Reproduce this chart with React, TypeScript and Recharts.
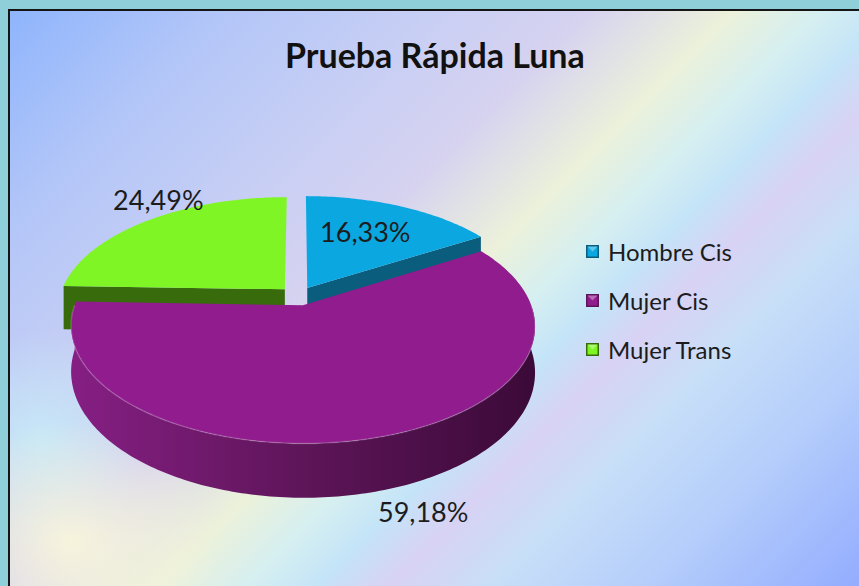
import { PieChart, Pie, Cell, Legend } from 'recharts';

const categories = ['Hombre Cis', 'Mujer Cis', 'Mujer Trans'];
const shares = [16.33, 59.18, 24.49];

const topColors = ['#0ba7e0', '#901c8d', '#7ff526'];
const wallLight = ['#0d6686', '#861f84', '#3f7610'];
const wallMid = ['#0b5a78', '#5e1559', '#386b0c'];
const wallDark = ['#0a4f6a', '#3b0a38', '#2f5a0b'];
const edgeColors = ['#0b5d7d', '#5e1459', '#386b0c'];

const chartData = categories.map((name, i) => ({ name, value: shares[i] }));

const WIDTH = 859;
const HEIGHT = 586;
const CENTER_X = 298;
const CENTER_Y = 296;
const RADIUS = 225;
const TILT = 0.491;
const PERSPECTIVE = 0.175;
const DEPTH = 44;
const EXPLODE = 0.085;

// where each percentage sits, as a fraction of the radius
const labelRadius = [0.62, 1.42, 0.92];
const labelShift = [[-3, -3], [10, 0], [0, -26]];

type Pt = [number, number];

const toRad = (deg: number) => (deg * Math.PI) / 180;

// angle clockwise from 12 o'clock, r relative to radius
const project = (cx: number, cy: number, radius: number, r: number, angle: number, ex: number, ev: number, drop = 0): Pt => {
  const px = r * Math.sin(toRad(angle)) + ex;
  const pv = r * Math.cos(toRad(angle)) + ev;
  const k = 1 + PERSPECTIVE * pv;
  return [cx + (radius * px) / k, cy + (drop - radius * TILT * pv) / k];
};

const toPath = (pts: Pt[], close = true) =>
  pts.map((p, i) => `${i ? 'L' : 'M'}${p[0].toFixed(2)},${p[1].toFixed(2)}`).join(' ') + (close ? ' Z' : '');

const arc = (from: number, to: number, fn: (a: number) => Pt) => {
  const n = Math.max(2, Math.ceil(Math.abs(to - from)));
  const pts: Pt[] = [];
  for (let s = 0; s <= n; s++) pts.push(fn(from + ((to - from) * s) / n));
  return pts;
};

const sliceIndex = (props: any) => {
  const name = props.name ?? props.payload?.name;
  const i = categories.indexOf(name);
  return i >= 0 ? i : props.index ?? 0;
};

const makeSlice = (layer: 'back' | 'front') => (props: any) => {
  const { cx, cy, outerRadius, startAngle, endAngle } = props;
  const i = sliceIndex(props);
  const a1 = 90 - startAngle;
  const a2 = 90 - endAngle;
  const mid = (a1 + a2) / 2;
  const inBack = Math.cos(toRad(mid)) > 0;
  if ((layer === 'back') !== inBack) return <g />;

  const ex = EXPLODE * Math.sin(toRad(mid));
  const ev = EXPLODE * Math.cos(toRad(mid));
  const top = (r: number, a: number) => project(cx, cy, outerRadius, r, a, ex, ev);
  const bottom = (r: number, a: number) => project(cx, cy, outerRadius, r, a, ex, ev, DEPTH);
  const gid = `wall-${i}`;

  const faces = [];
  const w0 = Math.max(a1, 90);
  const w1 = Math.min(a2, 270);
  if (w1 > w0) {
    faces.push(
      <path key="wall" d={toPath([...arc(w0, w1, (a) => top(1, a)), ...arc(w1, w0, (a) => bottom(1, a))])} fill={`url(#${gid})`} />
    );
  }
  if (Math.sin(toRad(a1)) < -1e-6) {
    faces.push(<path key="e1" d={toPath([top(0, a1), top(1, a1), bottom(1, a1), bottom(0, a1)])} fill={edgeColors[i]} />);
  }
  if (Math.sin(toRad(a2)) > 1e-6) {
    faces.push(<path key="e2" d={toPath([top(0, a2), top(1, a2), bottom(1, a2), bottom(0, a2)])} fill={edgeColors[i]} />);
  }

  return (
    <g>
      <defs>
        <linearGradient id={gid} x1="0" y1="0" x2="1" y2="0">
          <stop offset="0%" stopColor={wallLight[i]} />
          <stop offset="50%" stopColor={wallMid[i]} />
          <stop offset="100%" stopColor={wallDark[i]} />
        </linearGradient>
      </defs>
      {faces}
      <path d={toPath([top(0, a1), ...arc(a1, a2, (a) => top(1, a))])} fill={topColors[i]} />
      {w1 > w0 && (
        <path d={toPath(arc(w0, w1, (a) => top(1, a)), false)} fill="none" stroke="rgba(255,255,255,0.18)" strokeWidth={1.5} />
      )}
    </g>
  );
};

const backSlice = makeSlice('back');
const frontSlice = makeSlice('front');

const renderLabel = (props: any) => {
  const { cx, cy, outerRadius, startAngle, endAngle, value } = props;
  const i = sliceIndex(props);
  const mid = 90 - (startAngle + endAngle) / 2;
  const ex = EXPLODE * Math.sin(toRad(mid));
  const ev = EXPLODE * Math.cos(toRad(mid));
  const [x, y] = project(cx, cy, outerRadius, labelRadius[i], mid, ex, ev);
  return (
    <text
      x={x + labelShift[i][0]}
      y={y + labelShift[i][1]}
      textAnchor="middle"
      dominantBaseline="central"
      fontFamily="Lato, sans-serif"
      fontSize={27}
      fill="#1c1c1c"
    >
      {`${Number(value).toFixed(2).replace('.', ',')}%`}
    </text>
  );
};

const renderLegend = (props: any) => {
  const seen = new Set<string>();
  const items = (props.payload || []).filter((p: any) => {
    if (seen.has(p.value)) return false;
    seen.add(p.value);
    return true;
  });
  return (
    <div style={{ fontFamily: 'Lato, sans-serif', fontSize: 24, color: '#1c1c1c' }}>
      {items.map((entry: any) => {
        const i = categories.indexOf(entry.value);
        return (
          <div key={entry.value} style={{ display: 'flex', alignItems: 'center', height: 49 }}>
            <svg width={13} height={13} style={{ marginRight: 9 }}>
              <rect x={0} y={0} width={13} height={13} fill={edgeColors[i]} />
              <rect x={1.5} y={1.5} width={10} height={10} fill={topColors[i]} />
              <polygon points="1.5,1.5 11.5,1.5 6.5,6.5" fill="rgba(255,255,255,0.35)" />
            </svg>
            <span>{entry.value}</span>
          </div>
        );
      })}
    </div>
  );
};

const background = [
  'radial-gradient(ellipse 150px 120px at 60px 530px, rgba(250,247,218,0.9), rgba(250,247,218,0))',
  'radial-gradient(ellipse 110px 110px at 30px 430px, rgba(196,238,248,0.8), rgba(196,238,248,0))',
  'linear-gradient(135deg, #8fb5fc 0%, #b3c6f8 15%, #c9cff4 30%, #d6d2f0 40%, #ecf1da 50%, #d6eff0 56%, #c4e4f8 61%, #d8d2f4 66%, #c8dff8 73%, #b4cdfb 84%, #90a9ff 100%)',
].join(', ');

export default function App() {
  return (
    <div style={{ position: 'absolute', left: 0, top: 0, width: WIDTH, height: HEIGHT, background: '#8ecfd9', overflow: 'hidden' }}>
      <div
        style={{
          position: 'absolute',
          left: 8,
          top: 9,
          width: WIDTH,
          height: HEIGHT,
          borderTop: '2px solid #151515',
          borderLeft: '2px solid #151515',
          background,
        }}
      />
      <div
        style={{
          position: 'absolute',
          left: 285,
          top: 38,
          fontFamily: 'Lato, sans-serif',
          fontWeight: 700,
          fontSize: 34,
          lineHeight: 1,
          color: '#111',
          whiteSpace: 'nowrap',
        }}
      >
        Prueba Rápida Luna
      </div>
      <div style={{ position: 'absolute', left: 0, top: 0 }}>
        <PieChart width={WIDTH} height={HEIGHT} margin={{ top: 0, right: 0, bottom: 0, left: 0 }}>
          <Pie
            data={chartData}
            dataKey="value"
            nameKey="name"
            cx={CENTER_X}
            cy={CENTER_Y}
            outerRadius={RADIUS}
            startAngle={90}
            endAngle={-270}
            stroke="none"
            isAnimationActive={false}
            shape={backSlice}
            activeShape={backSlice}
          >
            {chartData.map((d, i) => (
              <Cell key={d.name} fill={topColors[i]} />
            ))}
          </Pie>
          <Pie
            data={chartData}
            dataKey="value"
            nameKey="name"
            cx={CENTER_X}
            cy={CENTER_Y}
            outerRadius={RADIUS}
            startAngle={90}
            endAngle={-270}
            stroke="none"
            legendType="none"
            isAnimationActive={false}
            shape={frontSlice}
            activeShape={frontSlice}
            label={renderLabel}
            labelLine={false}
          >
            {chartData.map((d, i) => (
              <Cell key={d.name} fill={topColors[i]} />
            ))}
          </Pie>
          <Legend
            layout="vertical"
            content={renderLegend}
            wrapperStyle={{ left: 586, top: 227, width: 'auto' }}
          />
        </PieChart>
      </div>
    </div>
  );
}
